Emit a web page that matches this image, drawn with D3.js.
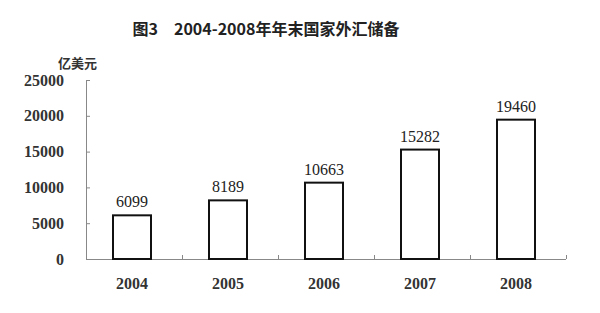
<!DOCTYPE html>
<html>
<head>
<meta charset="utf-8">
<script src="https://cdn.jsdelivr.net/npm/d3@7"></script>
<style>
  body { margin: 0; background: #fff; }
  svg { display: block; }
</style>
</head>
<body>
<svg id="chart"></svg>
<script>
var years = ["2004", "2005", "2006", "2007", "2008"];
var reserves = [6099, 8189, 10663, 15282, 19460];
var y_ticks = [0, 5000, 10000, 15000, 20000, 25000];

var data = years.map(function(y, i) { return {year: y, value: reserves[i]}; });

var svg = d3.select("#chart")
    .attr("width", 600)
    .attr("height", 313);

var margin = {top: 80, right: 34, bottom: 54, left: 86},
    width = 600 - margin.left - margin.right,
    height = 313 - margin.top - margin.bottom;

var x = d3.scaleBand().domain(years).range([0, width]).padding(0),
    y = d3.scaleLinear().domain([0, 25000]).range([height, 0]);

var g = svg.append("g")
    .attr("transform", "translate(" + margin.left + "," + margin.top + ")");

var num_font = "'Liberation Serif', 'Times New Roman', serif";
var cjk_font = "'Noto Sans CJK SC', sans-serif";

/* title */
svg.append("text")
    .attr("x", 266)
    .attr("y", 35)
    .attr("text-anchor", "middle")
    .style("font-family", cjk_font)
    .style("font-weight", "bold")
    .style("font-size", "16px")
    .style("fill", "#222")
    .text("图3　2004-2008年年末国家外汇储备");

/* unit label */
svg.append("text")
    .attr("x", 58)
    .attr("y", 68)
    .style("font-family", cjk_font)
    .style("font-weight", "bold")
    .style("font-size", "13px")
    .style("fill", "#333")
    .text("亿美元");

/* y axis */
var y_axis = g.append("g")
    .call(d3.axisLeft(y).tickValues(y_ticks).tickSize(-4).tickPadding(22).tickFormat(d3.format("d")));
y_axis.select(".domain").attr("stroke", "#888").attr("d", "M0.5," + height + "V0");
y_axis.selectAll(".tick line").attr("stroke", "#888");
y_axis.selectAll(".tick text")
    .style("font-family", num_font)
    .style("font-weight", "bold")
    .style("font-size", "16px")
    .style("fill", "#333");

/* x axis: line with tick marks at band edges */
g.append("line")
    .attr("x1", 0).attr("x2", width)
    .attr("y1", height + 0.5).attr("y2", height + 0.5)
    .attr("stroke", "#888");
g.selectAll(".xtick")
    .data(years)
  .enter().append("line")
    .attr("class", "xtick")
    .attr("x1", function(d) { return x(d) + x.bandwidth() + 0.5; })
    .attr("x2", function(d) { return x(d) + x.bandwidth() + 0.5; })
    .attr("y1", height)
    .attr("y2", height - 4)
    .attr("stroke", "#888");

g.selectAll(".xlabel")
    .data(data)
  .enter().append("text")
    .attr("class", "xlabel")
    .attr("x", function(d) { return x(d.year) + x.bandwidth() / 2 - 2; })
    .attr("y", height + 30)
    .attr("text-anchor", "middle")
    .style("font-family", num_font)
    .style("font-weight", "bold")
    .style("font-size", "16px")
    .style("fill", "#333")
    .text(function(d) { return d.year; });

/* bars */
var bar_w = 38;
g.selectAll(".bar")
    .data(data)
  .enter().append("rect")
    .attr("class", "bar")
    .attr("x", function(d) { return x(d.year) + x.bandwidth() / 2 - 2 - bar_w / 2; })
    .attr("y", function(d) { return y(d.value); })
    .attr("width", bar_w)
    .attr("height", function(d) { return height - y(d.value); })
    .attr("fill", "#fff")
    .attr("stroke", "#111")
    .attr("stroke-width", 2);

/* value labels */
g.selectAll(".value")
    .data(data)
  .enter().append("text")
    .attr("class", "value")
    .attr("x", function(d) { return x(d.year) + x.bandwidth() / 2 - 2; })
    .attr("y", function(d) { return y(d.value) - 8; })
    .attr("text-anchor", "middle")
    .style("font-family", num_font)
    .style("font-size", "16px")
    .style("fill", "#222")
    .text(function(d) { return d.value; });
</script>
</body>
</html>
